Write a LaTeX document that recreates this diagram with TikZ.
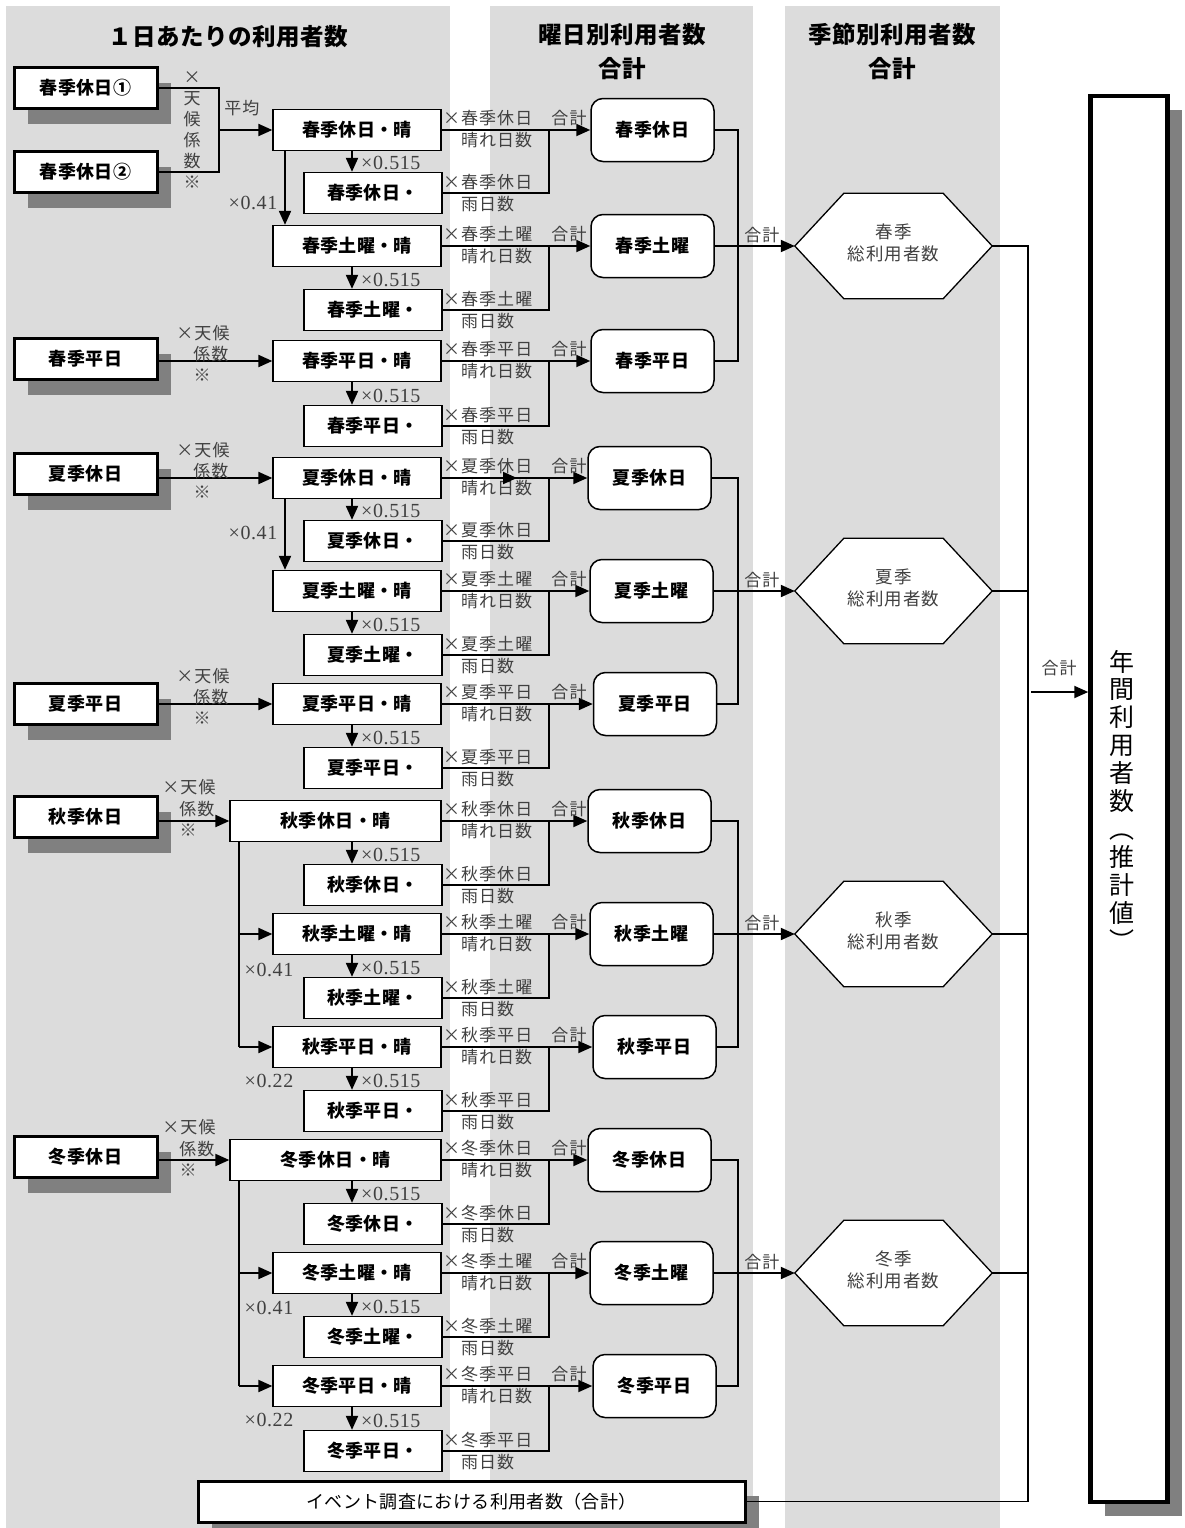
\documentclass[tikz,border=0pt]{standalone}
\usepackage{fontspec}
\setmainfont{Liberation Serif}
\newfontfamily\jp[LetterSpace=2]{Noto Sans CJK JP}
\newfontfamily\jpl[LetterSpace=6]{Noto Sans CJK JP}
\newfontfamily\jpv{Noto Sans CJK JP}
\newfontfamily\numf[LetterSpace=3]{Liberation Serif}
\usetikzlibrary{arrows.meta,calc,shadows}
\definecolor{panelc}{HTML}{DCDCDC}
\definecolor{shadc}{HTML}{808080}
\definecolor{lblc}{HTML}{404040}
\begin{document}
\begin{tikzpicture}[x=1pt,y=-1pt,
  boxfont/.style={font=\jp\bfseries\fontsize{18}{21}\selectfont},
  shad/.style={drop shadow={shadow xshift=14pt,shadow yshift=-15pt,fill=shadc,opacity=1}},
  inbox/.style={draw,line width=3pt,fill=white,minimum width=143,minimum height=41,inner sep=0pt,boxfont,shad},
  sunbox/.style={draw,line width=1.3pt,fill=white,minimum height=41,inner sep=0pt,boxfont},
  rainbox/.style={sunbox,minimum width=138},
  daybox/.style={draw,line width=1.5pt,rounded corners=12pt,fill=white,minimum width=123,minimum height=63,inner sep=0pt,boxfont},
  hexnode/.style={minimum width=197,minimum height=105,inner sep=0pt},
  lbl/.style={text=lblc,inner sep=0pt,font=\jpl\fontsize{17}{21}\selectfont},
  hexlbl/.style={text=lblc,inner sep=0pt,align=center,font=\jpl\fontsize{17.5}{22.5}\selectfont},
  numl/.style={text=lblc,inner sep=0pt,font=\numf\fontsize{20}{22}\selectfont},
  titlef/.style={inner sep=0pt,font=\jp\bfseries\fontsize{23.5}{26}\selectfont},
  arr/.style={-{Triangle[length=14pt,width=12pt]},line width=2pt},
  sunline/.style={-{Triangle[length=14pt,width=12pt]},line width=2pt},
  thinl/.style={line width=1.2pt},
  jl/.style={line width=1.3pt}]
\useasboundingbox (0,0) rectangle (1184,1528);
% panels
\fill[panelc] (6,6) rectangle (450,1528);
\fill[panelc] (490,6) rectangle (753,1528);
\fill[panelc] (785,6) rectangle (1000,1528);
% titles
\node[titlef] (t1) at (228,37) {１日あたりの利用者数};
\node[titlef] (t2) at (622,35) {曜日別利用者数};
\node[titlef] (t2b) at (622,69) {合計};
\node[titlef] (t3) at (892,35) {季節別利用者数};
\node[titlef] (t3b) at (892,69) {合計};
\coordinate (xa) at (352,0);
% rows
\foreach \i/\ys/\yr/\nm/\xs/\ws/\xd in {
1/130/193/春季休日/357/168/652.5,
2/246/310/春季土曜/357/168/652.5,
3/361/426/春季平日/357/168/652.5,
4/478/541/夏季休日/357/168/649.5,
5/591/655/夏季土曜/357/168/651.5,
6/704/768/夏季平日/357/168/655,
7/821/885/秋季休日/335.5/211/649.5,
8/934/998/秋季土曜/357/168/651.5,
9/1047/1111/秋季平日/357/168/654.5,
10/1160/1224/冬季休日/335.5/211/649.5,
11/1273/1337/冬季土曜/357/168/651.5,
12/1386/1451/冬季平日/357/168/654.5}{
  \node[sunbox,minimum width=\ws] (sh\i) at (\xs,\ys) {\nm・晴};
  \node[rainbox] (sr\i) at (373,\yr) {\nm・};
  \node[daybox] (dh\i) at (\xd,\ys) {\nm};
  \coordinate (j\i) at (549,\ys);
  \draw[sunline] (sh\i.east) -- (dh\i.west);
  \draw[thinl] (sr\i.east) -| (j\i);
  \draw[arr] (sh\i.south -| xa) -- (sr\i.north -| xa);
  \node[numl,anchor=west] at (361,\yr-30) {×0.515};
  \node[lbl,anchor=west] at (443,\ys-12) {×\nm};
  \node[lbl,anchor=west] at (461,\ys+10) {晴れ日数};
  \node[lbl,anchor=west] at (443,\yr-11) {×\nm};
  \node[lbl,anchor=west] at (461,\yr+11) {雨日数};
  \node[lbl] at (569,\ys-12) {合計};
}
% hexagons
\foreach \h/\y/\s in {S/246/春季,U/591/夏季,A/934/秋季,W/1273/冬季}{
  \node[hexnode] (hex\h) at (893.5,\y) {};
  \filldraw[fill=white,line width=1.3pt] (hex\h.west) -- ($(hex\h.north west)+(49,0)$) -- ($(hex\h.north east)+(-49,0)$) -- (hex\h.east) -- ($(hex\h.south east)+(-49,0)$) -- ($(hex\h.south west)+(49,0)$) -- cycle;
  \node[hexlbl] at ($(hex\h.center)+(0,-3)$) {\s\\総利用者数};
}
% day boxes to hexagons
\foreach \a/\b/\c/\h in {1/2/3/S,4/5/6/U,7/8/9/A,10/11/12/W}{
  \coordinate (k\h) at (738,0);
  \draw[jl] (dh\a.east) -- (dh\a.east -| k\h) -- (dh\c.east -| k\h) -- (dh\c.east);
  \draw[arr] (dh\b.east) -- (hex\h.west);
  \node[lbl] at ($(hex\h.west)+(-33,-11)$) {合計};
}
% input boxes
\node[inbox] (in1) at (85.5,88) {春季休日①};
\node[inbox] (in2) at (85.5,172) {春季休日②};
\node[inbox] (in3) at (85.5,359) {春季平日};
\node[inbox] (in4) at (85.5,474) {夏季休日};
\node[inbox] (in5) at (85.5,704) {夏季平日};
\node[inbox] (in6) at (85.5,817) {秋季休日};
\node[inbox] (in7) at (85.5,1157) {冬季休日};
\coordinate (avg) at (219,130);
\draw[thinl] (in1.east) -| (avg);
\draw[thinl] (in2.east) -| (avg);
\draw[arr] (avg) -- (sh1.west);
\draw[arr] (in3.east |- sh3.west) -- (sh3.west);
\draw[arr] (in4.east |- sh4.west) -- (sh4.west);
\draw[arr] (in5.east |- sh6.west) -- (sh6.west);
\draw[arr] (in6.east |- sh7.west) -- (sh7.west);
\draw[arr] (in7.east |- sh10.west) -- (sh10.west);
\node[lbl,align=center] at (192,130.5) {×\\天\\候\\係\\数\\※};
\node[lbl] at (242,108) {平均};
\foreach \yy in {361,478,704}{
  \node[lbl] at (203,\yy-28) {×天候};
  \node[lbl] at (211,\yy-7) {係数};
  \node[lbl] at (202,\yy+14) {※};
}
\foreach \yy in {820,1160}{
  \node[lbl] at (189,\yy-33) {×天候};
  \node[lbl] at (197,\yy-11) {係数};
  \node[lbl] at (188,\yy+10) {※};
}
% saturday / weekday derivations
\coordinate (xb) at (285,0);
\coordinate (xc) at (239,0);
\draw[arr] (sh1.south -| xb) -- (sh2.north -| xb);
\draw[arr] (sh4.south -| xb) -- (sh5.north -| xb);
\draw[thinl] (sh7.south -| xc) -- (sh9.west -| xc);
\draw[arr] (sh8.west -| xc) -- (sh8.west);
\draw[arr] (sh9.west -| xc) -- (sh9.west);
\draw[thinl] (sh10.south -| xc) -- (sh12.west -| xc);
\draw[arr] (sh11.west -| xc) -- (sh11.west);
\draw[arr] (sh12.west -| xc) -- (sh12.west);
\node[numl] at (253,203) {×0.41};
\node[numl] at (253,533) {×0.41};
\node[numl] at (269,970) {×0.41};
\node[numl] at (269,1081) {×0.22};
\node[numl] at (269,1308) {×0.41};
\node[numl] at (269,1420) {×0.22};
\coordinate (xd) at (517,0);
\draw[arr] (sh4.east) -- (sh4.east -| xd);
% event box and annual total
\node[draw,line width=3pt,fill=white,minimum width=547,minimum height=41,inner sep=0pt,shad,font=\jp\fontsize{18}{21}\selectfont] (ev) at (471.5,1501.5) {イベント調査における利用者数（合計）};
\node[draw,line width=4.5pt,fill=white,minimum width=77,minimum height=1406,inner sep=0pt,drop shadow={shadow xshift=14pt,shadow yshift=-14pt,fill=shadc,opacity=1}] (big) at (1129,799) {};
\node[inner sep=0pt,align=center,font=\jpv\fontsize{25}{27.9}\selectfont] (bigt) at (1122,800) {年\\間\\利\\用\\者\\数\\︵\\推\\計\\値\\︶};
\coordinate (rt) at (1028,246);
\coordinate (rb) at (1028,1501.5);
\draw[thinl] (hexS.east) -- (rt) -- (rb) -- (ev.east);
\draw[thinl] (hexU.east) -- (hexU.east -| rt);
\draw[thinl] (hexA.east) -- (hexA.east -| rt);
\draw[thinl] (hexW.east) -- (hexW.east -| rt);
\coordinate (ba) at (1031,692);
\draw[arr] (ba) -- (ba -| big.west);
\node[lbl] at (1059,668) {合計};
\end{tikzpicture}
\end{document}
